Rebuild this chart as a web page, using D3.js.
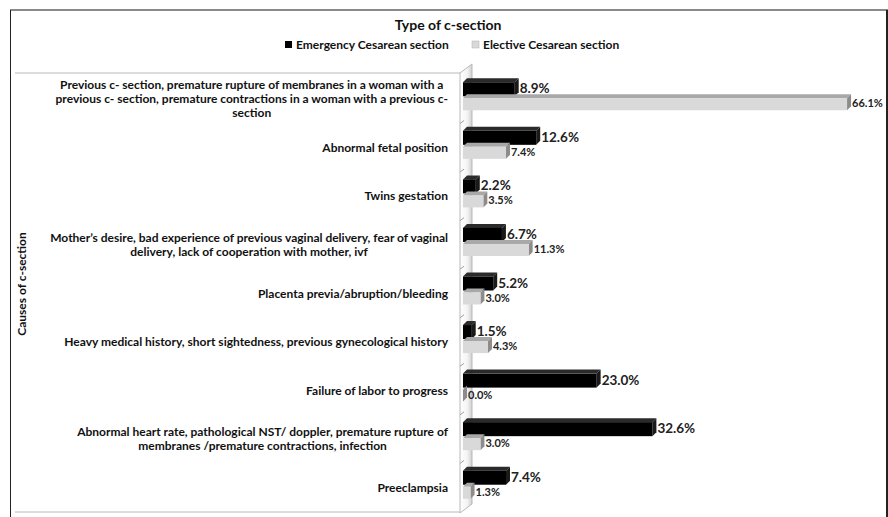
<!DOCTYPE html>
<html>
<head>
<meta charset="utf-8">
<script src="https://cdn.jsdelivr.net/npm/d3@7"></script>
<style>
    body { margin: 0; background: white; }
    text { font-family: Lato, "Open Sans", sans-serif; font-weight: bold; }
</style>
</head>
<body>
<script>
// data
const categories = [
    ["Previous c- section, premature rupture of membranes in a woman with a",
     "previous c- section, premature contractions in a woman with a previous c-",
     "section"],
    ["Abnormal fetal position"],
    ["Twins gestation"],
    ["Mother\u2019s desire, bad experience of previous vaginal delivery, fear of vaginal",
     "delivery, lack of cooperation with mother, ivf"],
    ["Placenta previa/abruption/bleeding"],
    ["Heavy medical history, short sightedness, previous gynecological history"],
    ["Failure of labor to progress"],
    ["Abnormal heart rate, pathological NST/ doppler, premature rupture of",
     "membranes /premature contractions, infection"],
    ["Preeclampsia"]
]
const emergency = [8.9, 12.6, 2.2, 6.7, 5.2, 1.5, 23.0, 32.6, 7.4]
const elective = [66.1, 7.4, 3.5, 11.3, 3.0, 4.3, 0.0, 3.0, 1.3]
const seriesNames = ["Emergency Cesarean section", "Elective Cesarean section"]

function main(){
    var width = 888;
    var height = 517;

    let svg = d3.select("body")
        .append('svg')
        .attr('width', width)
        .attr('height', height)

    // outer frame
    svg.append('line').attr('x1', 10).attr('x2', 888).attr('y1', 10).attr('y2', 10)
        .attr('stroke', '#8a8a8a').attr('stroke-width', 2)
    svg.append('line').attr('x1', 10.5).attr('x2', 10.5).attr('y1', 10).attr('y2', 517)
        .attr('stroke', '#222').attr('stroke-width', 1)
    svg.append('line').attr('x1', 887).attr('x2', 887).attr('y1', 10).attr('y2', 517)
        .attr('stroke', '#222').attr('stroke-width', 2)

    // title + legend
    svg.append('text')
        .attr('x', 448).attr('y', 30)
        .attr('text-anchor', 'middle')
        .attr('font-size', '14px')
        .attr('fill', '#111')
        .text('Type of c-section')

    const legendX = [285, 472]
    const legendCol = ['#000', '#d9d9d9']
    seriesNames.forEach((s, i) => {
        svg.append('rect')
            .attr('x', legendX[i]).attr('y', 41)
            .attr('width', 7).attr('height', 7)
            .attr('fill', legendCol[i])
            .attr('stroke', i ? '#b0b0b0' : 'none')
            .attr('stroke-width', 0.5)
        svg.append('text')
            .attr('x', legendX[i] + 11).attr('y', 49)
            .attr('font-size', '12px')
            .attr('fill', '#111')
            .text(s)
    })

    // scales
    const idx = categories.map((d, i) => i)
    let yScale = d3.scaleBand()
        .domain(idx)
        .range([75, 512])
    let xScale = d3.scaleLinear()
        .domain([0, 70])
        .range([463, 463 + 70 * 5.81])

    // plot area lines
    svg.append('line').attr('x1', 15).attr('x2', 460).attr('y1', 73).attr('y2', 73)
        .attr('stroke', '#d0d0d0').attr('stroke-width', 1.5)
    svg.append('line').attr('x1', 15).attr('x2', 460).attr('y1', 512).attr('y2', 512)
        .attr('stroke', '#d0d0d0').attr('stroke-width', 1.5)

    // 3d wall
    const grad = svg.append('defs').append('linearGradient')
        .attr('id', 'wall').attr('x1', '0%').attr('x2', '100%')
    grad.append('stop').attr('offset', '0%').attr('stop-color', '#ffffff')
    grad.append('stop').attr('offset', '60%').attr('stop-color', '#f4f4f4')
    grad.append('stop').attr('offset', '100%').attr('stop-color', '#cfcfcf')
    svg.append('path')
        .attr('d', 'M460,73 L472,64 L472,504 L460,513 Z')
        .attr('fill', 'url(#wall)')
        .attr('stroke', '#b8b8b8')
        .attr('stroke-width', 1)
    svg.append('g').selectAll('line')
        .data(idx.slice(1))
        .enter()
        .append('line')
        .attr('x1', 460).attr('x2', 464)
        .attr('y1', d => yScale(d)).attr('y2', d => yScale(d) - 3)
        .attr('stroke', '#a0a0a0')

    // category labels, block right aligned, lines centred
    const labelRight = 448
    const lg = svg.append('g')
    categories.forEach((lines, i) => {
        const c = yScale(i) + yScale.bandwidth() / 2
        const t = lg.append('text')
            .attr('font-size', '12px')
            .attr('fill', '#111')
            .attr('text-anchor', 'middle')
        lines.forEach((l, j) => {
            t.append('tspan').text(l)
        })
        let maxW = 0
        t.selectAll('tspan').each(function(){
            maxW = Math.max(maxW, this.getComputedTextLength())
        })
        const cx = labelRight - maxW / 2
        const y0 = c + 4 - (lines.length - 1) * 7
        t.selectAll('tspan')
            .attr('x', cx)
            .attr('y', (d, j) => y0 + j * 14)
    })

    // axis title
    svg.append('text')
        .attr('transform', 'translate(26,284) rotate(-90)')
        .attr('text-anchor', 'middle')
        .attr('font-size', '12px')
        .attr('fill', '#111')
        .text('Causes of c-section')

    // bars with a 3d look
    const dx = 4, dy = 4
    function bar3d(g, x0, x1, top, h, front, topC, side){
        g.append('path')
            .attr('d', `M${x0},${top} L${x1},${top} L${x1 + dx},${top - dy} L${x0 + dx},${top - dy} Z`)
            .attr('fill', topC)
        g.append('path')
            .attr('d', `M${x1},${top} L${x1 + dx},${top - dy} L${x1 + dx},${top + h - dy} L${x1},${top + h} Z`)
            .attr('fill', side)
        g.append('rect')
            .attr('x', x0).attr('y', top)
            .attr('width', x1 - x0).attr('height', h)
            .attr('fill', front)
    }

    const bg = svg.append('g')
    idx.forEach(i => {
        const c = yScale(i) + yScale.bandwidth() / 2
        bar3d(bg, xScale(0), xScale(emergency[i]), c - 17, 14, '#000', '#2a2a2a', '#1a1a1a')
        bar3d(bg, xScale(0), xScale(elective[i]), c - 1, 12, '#d9d9d9', '#a8a8a8', '#8c8c8c')
    })

    // value labels
    svg.append('g').selectAll('text')
        .data(emergency)
        .enter()
        .append('text')
        .attr('x', d => xScale(d) + dx + 1)
        .attr('y', (d, i) => yScale(i) + yScale.bandwidth() / 2 - 6)
        .attr('font-size', '13.5px')
        .attr('fill', '#222')
        .text(d => d.toFixed(1) + '%')

    svg.append('g').selectAll('text')
        .data(elective)
        .enter()
        .append('text')
        .attr('x', d => xScale(d) + dx + 1)
        .attr('y', (d, i) => yScale(i) + yScale.bandwidth() / 2 + 8)
        .attr('font-size', '11px')
        .attr('fill', '#222')
        .text(d => d.toFixed(1) + '%')
}

main()
</script>
</body>
</html>
